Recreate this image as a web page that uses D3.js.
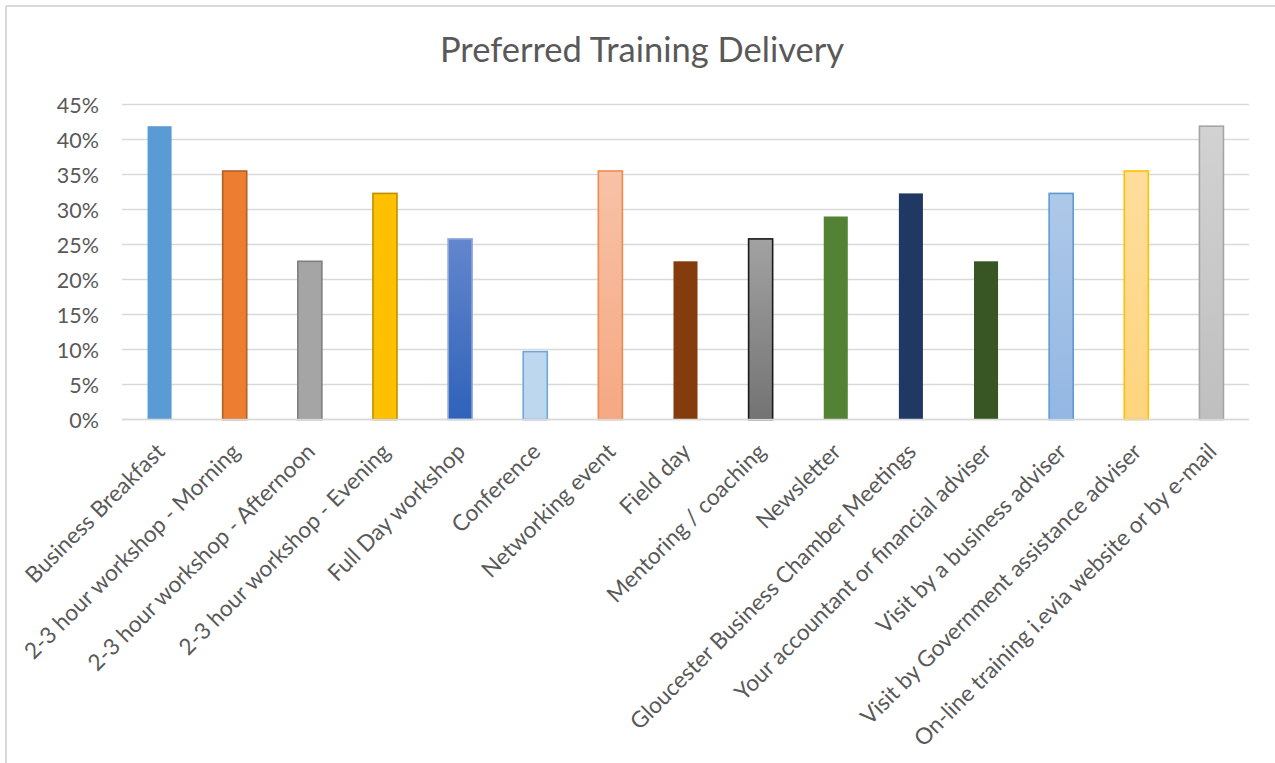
<!DOCTYPE html>
<html>
<head>
<meta charset="utf-8">
<script src="https://cdn.jsdelivr.net/npm/d3@7/dist/d3.min.js"></script>
<style>
  html, body { margin: 0; padding: 0; background: #fff; }
  svg { display: block; }
</style>
</head>
<body>
<svg id="chart" width="1275" height="763"></svg>
<script>
const title = "Preferred Training Delivery";
const categories = [
  "Business Breakfast",
  "2-3 hour workshop - Morning",
  "2-3 hour workshop - Afternoon",
  "2-3 hour workshop - Evening",
  "Full Day workshop",
  "Conference",
  "Networking event",
  "Field day",
  "Mentoring / coaching",
  "Newsletter",
  "Gloucester Business Chamber Meetings",
  "Your accountant or financial adviser",
  "Visit by a business adviser",
  "Visit by Government assistance adviser",
  "On-line training i.evia website or by e-mail"
];
const values = [41.9, 35.5, 22.6, 32.3, 25.8, 9.7, 35.5, 22.6, 25.8, 29.0, 32.3, 22.6, 32.3, 35.5, 41.9];
const yTicks = [0, 5, 10, 15, 20, 25, 30, 35, 40, 45];

// per-bar styling: [top fill, bottom fill, stroke]
const barStyles = [
  ["#5B9BD5", "#5B9BD5", "none"],
  ["#ED7D31", "#ED7D31", "#B0612A"],
  ["#A5A5A5", "#A5A5A5", "#7F7F7F"],
  ["#FFC000", "#FFC000", "#BF9000"],
  ["#6386CD", "#2F62BA", "#8FAADC"],
  ["#BDD7EE", "#BDD7EE", "#6FA6DC"],
  ["#F8C2A7", "#F5A883", "#F08A4B"],
  ["#843C0C", "#843C0C", "none"],
  ["#A2A2A2", "#737373", "#1A1A1A"],
  ["#548235", "#548235", "none"],
  ["#203864", "#203864", "none"],
  ["#375623", "#375623", "none"],
  ["#AEC8E8", "#93B7E3", "#5B9BD5"],
  ["#FFDD9C", "#FFD47E", "#FFC000"],
  ["#D2D2D2", "#BFBFBF", "#A5A5A5"]
];

const svg = d3.select("#chart");
const font = "Lato, 'Open Sans', sans-serif";
const textColor = "#595959";

// chart frame (top and left edges visible)
svg.append("line").attr("x1", 6).attr("y1", 6).attr("x2", 1275).attr("y2", 6)
  .attr("stroke", "#D9D9D9").attr("stroke-width", 2);
svg.append("line").attr("x1", 6).attr("y1", 6).attr("x2", 6).attr("y2", 763)
  .attr("stroke", "#D9D9D9").attr("stroke-width", 2);

svg.append("text")
  .attr("x", 642).attr("y", 62)
  .attr("text-anchor", "middle")
  .attr("font-family", font)
  .attr("font-size", 34.5)
  .attr("fill", textColor)
  .text(title);

const x = d3.scaleBand().domain(categories).range([122, 1249]).paddingInner(0.68).paddingOuter(0.34);
const y = d3.scaleLinear().domain([0, 45]).range([419.5, 104.5]);

// gridlines
svg.append("g")
  .selectAll("line")
  .data(yTicks)
  .join("line")
  .attr("x1", 122).attr("x2", 1249)
  .attr("y1", d => y(d)).attr("y2", d => y(d))
  .attr("stroke", "#D9D9D9").attr("stroke-width", 1.5);

// y axis labels
const yAxis = d3.axisLeft(y).tickValues(yTicks).tickFormat(d => d + "%").tickSize(0).tickPadding(0);
const yg = svg.append("g").attr("transform", "translate(99,0)").call(yAxis);
yg.select(".domain").remove();
yg.selectAll("text")
  .attr("font-family", font)
  .attr("font-size", 21.5)
  .attr("fill", textColor)
  .attr("dy", "0.36em");

// gradients
const defs = svg.append("defs");
barStyles.forEach((s, i) => {
  const g = defs.append("linearGradient").attr("id", "grad" + i)
    .attr("x1", 0).attr("y1", 0).attr("x2", 0).attr("y2", 1);
  g.append("stop").attr("offset", "0%").attr("stop-color", s[0]);
  g.append("stop").attr("offset", "100%").attr("stop-color", s[1]);
});

// bars
svg.append("g")
  .selectAll("rect")
  .data(values)
  .join("rect")
  .attr("x", (d, i) => x(categories[i]))
  .attr("width", x.bandwidth())
  .attr("y", d => y(d))
  .attr("height", d => y(0) - y(d))
  .attr("fill", (d, i) => `url(#grad${i})`)
  .attr("stroke", (d, i) => barStyles[i][2])
  .attr("stroke-width", 1.6);

// x axis baseline
svg.append("line").attr("x1", 122).attr("x2", 1249).attr("y1", y(0)).attr("y2", y(0))
  .attr("stroke", "#D9D9D9").attr("stroke-width", 1.5);

// x labels
const xAxis = d3.axisBottom(x).tickSize(0).tickPadding(0);
const xg = svg.append("g").attr("transform", `translate(0,${y(0)})`).call(xAxis);
xg.select(".domain").remove();
xg.selectAll(".tick text")
  .attr("font-family", font)
  .attr("font-size", 22.6)
  .attr("fill", textColor)
  .attr("text-anchor", "end")
  .attr("y", 0).attr("dy", "0.35em")
  .attr("transform", "translate(1,28) rotate(-45)");
</script>
</body>
</html>
